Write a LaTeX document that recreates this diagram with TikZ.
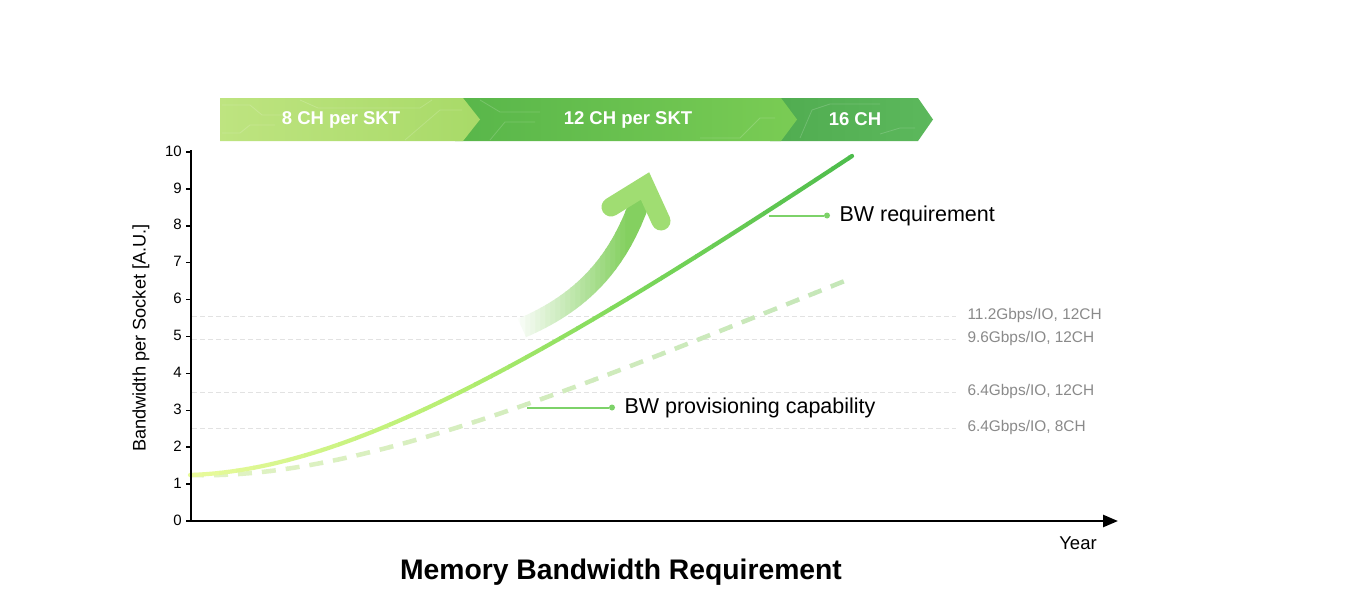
\documentclass[tikz,border=0pt]{standalone}
\usepackage{fontspec}
\setmainfont{Liberation Sans}
\usetikzlibrary{arrows.meta}
\definecolor{rqA}{RGB}{232,250,155}
\definecolor{rqB}{RGB}{180,238,112}
\definecolor{rqC}{RGB}{125,216,90}
\definecolor{rqD}{RGB}{76,187,76}
\definecolor{pvA}{RGB}{225,243,195}
\definecolor{pvB}{RGB}{196,230,184}
\definecolor{gridc}{RGB}{226,226,226}
\definecolor{labgray}{RGB}{138,138,138}
\definecolor{conc}{RGB}{125,210,105}
\definecolor{arrowc}{RGB}{132,208,96}
\definecolor{headc}{RGB}{160,221,114}
\definecolor{bnA}{RGB}{190,228,128}
\definecolor{bnB}{RGB}{168,218,104}
\definecolor{bnC}{RGB}{88,182,74}
\definecolor{bnD}{RGB}{122,204,84}
\definecolor{bnE}{RGB}{80,172,80}
\definecolor{bnF}{RGB}{92,184,92}
\newcommand\reqcurve{(190,475) .. controls (340,470) and (520,375) .. (852,156)}
\newcommand\provcurve{(190,475) .. controls (350,480) and (550,400) .. (852,278)}
\newcommand\shaftcurve{(522,328) .. controls (580,303) and (620,265) .. (643,192)}
\newcommand\fs[1]{\fontsize{#1}{#1}\selectfont}
\tikzset{
  reqline/.style={line width=4.2pt, line cap=round},
  provline/.style={line width=4.5pt, dash pattern=on 14pt off 10pt},
  gridline/.style={draw=gridc, line width=1pt, dash pattern=on 5pt off 3pt},
  glab/.style={anchor=west, text=labgray, font=\fs{15.4}},
  conline/.style={draw=conc, line width=2pt},
  condot/.style={circle, fill=conc, inner sep=0pt, minimum size=6pt},
  leglab/.style={anchor=west, font=\fs{21.5}, text=black},
  banlab/.style={text=white, font=\bfseries\fs{18.5}},
  tick/.style={line width=1.5pt},
  trace/.style={draw=white, opacity=0.17, line width=0.8pt},
}
\begin{document}
\begin{tikzpicture}[x=1pt,y=-1pt]
\useasboundingbox (0,0) rectangle (1365,610);
\fill[white] (0,0) rectangle (1365,610);

% ---------------- banner ----------------
\shade[left color=bnE, right color=bnF] (770,98) -- (918,98) -- (933,119.5) -- (918,141) -- (770,141) -- cycle;
\shade[left color=bnC, right color=bnD] (455,98) -- (781,98) -- (797,119.5) -- (781,141) -- (455,141) -- cycle;
\shade[left color=bnA, right color=bnB] (220,98) -- (463,98) -- (480,119.5) -- (463,141) -- (220,141) -- cycle;
% faint circuit traces
\draw[trace] (222,105) -- (250,105) -- (262,115) -- (282,115);
\draw[trace] (222,133) -- (240,133) -- (250,125) -- (275,125);
\draw[trace] (300,100) -- (318,108) -- (420,108) -- (432,100);
\draw[trace] (405,140) -- (440,110) -- (462,110);
\draw[trace] (490,140) -- (505,122) -- (535,122);
\draw[trace] (480,100) -- (500,112) -- (540,112);
\draw[trace] (700,138) -- (740,138) -- (760,118) -- (775,118);
\draw[trace] (800,138) -- (812,110) -- (830,104) -- (880,104);
\draw[trace] (880,134) -- (900,128) -- (915,128);
\node[banlab] (b1) at (341,119.5) {8 CH per SKT};
\node[banlab] (b2) at (628,119.5) {12 CH per SKT};
\node[banlab] (b3) at (855,119.5) {16 CH};

% ---------------- grid lines ----------------
\coordinate (g1l) at (192,316); \coordinate (g1r) at (956,316);
\coordinate (g2l) at (192,339); \coordinate (g2r) at (956,339);
\coordinate (g3l) at (192,392); \coordinate (g3r) at (956,392);
\coordinate (g4l) at (192,428); \coordinate (g4r) at (956,428);
\draw[gridline] (g1l) -- (g1r);
\draw[gridline] (g2l) -- (g2r);
\draw[gridline] (g3l) -- (g3r);
\draw[gridline] (g4l) -- (g4r);
\node[glab] (l1) at (964,316) {11.2Gbps/IO, 12CH};
\node[glab] (l2) at (964,339) {9.6Gbps/IO, 12CH};
\node[glab] (l3) at (964,392) {6.4Gbps/IO, 12CH};
\node[glab] (l4) at (964,428) {6.4Gbps/IO, 8CH};

% ---------------- big curved arrow ----------------
\foreach \i in {0,...,31}{
  \pgfmathsetmacro\xa{506+\i*5}
  \pgfmathtruncatemacro\p{min(100,max(0,(\xa-512)/(625-512)*100))}
  \begin{scope}
    \clip (\xa-0.6,150) rectangle (\xa+5,350);
    \draw[line width=20pt, draw=arrowc!\p!white] \shaftcurve;
  \end{scope}
}
\draw[line width=19pt, line cap=round, line join=miter, draw=headc] (611,207) -- (645,186) -- (661,221);

% ---------------- curves ----------------
\foreach \i in {0,...,41}{
  \pgfmathsetmacro\xa{186+\i*17}
  \pgfmathtruncatemacro\p{min(100,max(0,(\xa-190)/(852-190)*100))}
  \begin{scope}
    \clip (\xa-0.6,130) rectangle (\xa+17,500);
    \draw[provline, draw=pvB!\p!pvA] \provcurve;
  \end{scope}
}
\foreach \i in {0,...,41}{
  \pgfmathsetmacro\xa{186+\i*17}
  \ifdim\xa pt<450pt
    \pgfmathtruncatemacro\p{max(0,(\xa-190)/260*100)}\colorlet{cc}{rqB!\p!rqA}
  \else\ifdim\xa pt<620pt
    \pgfmathtruncatemacro\p{(\xa-450)/170*100}\colorlet{cc}{rqC!\p!rqB}
  \else
    \pgfmathtruncatemacro\p{min(100,(\xa-620)/232*100)}\colorlet{cc}{rqD!\p!rqC}
  \fi\fi
  \begin{scope}
    \clip (\xa-0.6,130) rectangle (\xa+17,500);
    \draw[reqline, draw=cc] \reqcurve;
  \end{scope}
}

% ---------------- legend connectors ----------------
\coordinate (c1s) at (769,215.5);
\node[condot] (c1e) at (827,215.5) {};
\draw[conline] (c1s) -- (c1e);
\node[leglab] (t1) at (836,215.5) {BW requirement};
\coordinate (c2s) at (527,407.5);
\node[condot] (c2e) at (612,407.5) {};
\draw[conline] (c2s) -- (c2e);
\node[leglab] (t2) at (621,408) {BW provisioning capability};

% ---------------- axes ----------------
\coordinate (o) at (191,521);
\coordinate (ytop) at (191,150);
\coordinate (xend) at (1118,521);
\draw[line width=2.5pt] (ytop) -- (o);
\draw[line width=2.5pt, -{Triangle[length=15pt,width=12pt]}] (189.75,521) -- (xend);
\foreach \v in {0,...,10}{
  \pgfmathsetmacro\yy{521-36.9*\v}
  \draw[tick] (186,\yy) -- (191,\yy);
  \node[anchor=east, font=\fs{15}, inner sep=0pt] (tk\v) at (182,\yy-1) {\v};
}
\node[rotate=90, font=\fs{18.2}] (ylab) at (141,338) {Bandwidth per Socket [A.U.]};
\node[font=\fs{18.5}] (xlab) at (1078,543) {Year};
\node[font=\bfseries\fs{28.3}] (title) at (621,572) {Memory Bandwidth Requirement};
\end{tikzpicture}
\end{document}
